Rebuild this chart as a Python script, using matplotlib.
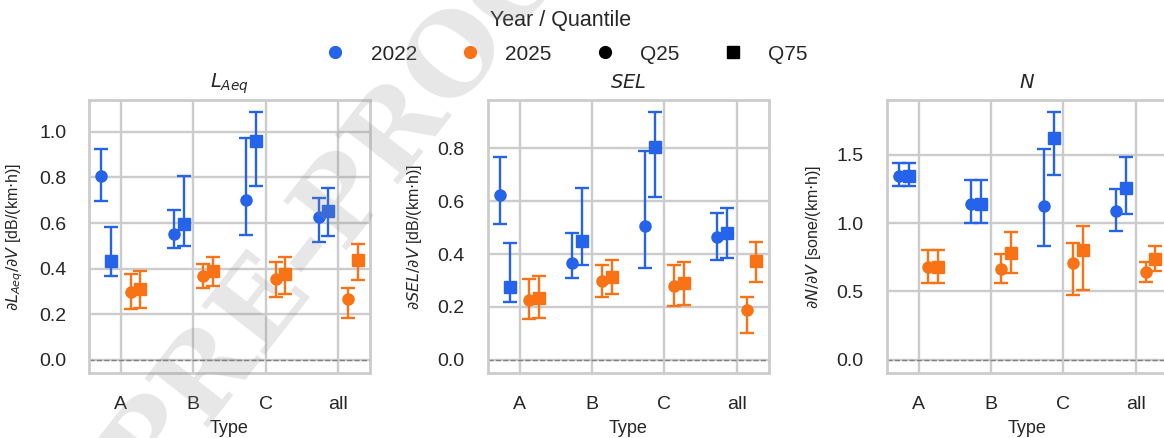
import numpy as np
import matplotlib.pyplot as plt
import seaborn as sns
from matplotlib.lines import Line2D

types = ["A", "B", "C", "all"]
years = ["2022", "2022", "2025", "2025"]
quantiles = ["Q25", "Q75", "Q25", "Q75"]

# rows: 2022 Q25, 2022 Q75, 2025 Q25, 2025 Q75 ; columns: A, B, C, all
laeq = [[0.807, 0.553, 0.700, 0.628],
        [0.432, 0.594, 0.959, 0.654],
        [0.298, 0.369, 0.355, 0.267],
        [0.311, 0.391, 0.377, 0.437]]
laeq_lo = [[0.695, 0.493, 0.547, 0.518],
           [0.368, 0.499, 0.762, 0.543],
           [0.225, 0.314, 0.277, 0.182],
           [0.229, 0.326, 0.289, 0.349]]
laeq_hi = [[0.924, 0.657, 0.975, 0.712],
           [0.584, 0.807, 1.086, 0.755],
           [0.375, 0.422, 0.431, 0.314],
           [0.390, 0.451, 0.453, 0.507]]

sel = [[0.625, 0.368, 0.508, 0.465],
       [0.276, 0.451, 0.805, 0.481],
       [0.227, 0.297, 0.280, 0.188],
       [0.234, 0.312, 0.290, 0.373]]
sel_lo = [[0.514, 0.309, 0.348, 0.377],
          [0.217, 0.357, 0.615, 0.384],
          [0.155, 0.239, 0.203, 0.103],
          [0.157, 0.248, 0.207, 0.294]]
sel_hi = [[0.767, 0.480, 0.790, 0.554],
          [0.443, 0.650, 0.937, 0.574],
          [0.305, 0.359, 0.357, 0.238],
          [0.316, 0.378, 0.369, 0.445]]

loud = [[1.346, 1.144, 1.129, 1.088],
        [1.346, 1.144, 1.622, 1.261],
        [0.676, 0.666, 0.710, 0.644],
        [0.676, 0.780, 0.800, 0.741]]
loud_lo = [[1.273, 1.005, 0.834, 0.944],
           [1.273, 1.005, 1.354, 1.071],
           [0.563, 0.559, 0.476, 0.571],
           [0.563, 0.637, 0.512, 0.646]]
loud_hi = [[1.439, 1.317, 1.541, 1.254],
           [1.439, 1.317, 1.815, 1.483],
           [0.800, 0.776, 0.854, 0.715],
           [0.800, 0.937, 0.983, 0.834]]

colors = {"2022": "#2563eb", "2025": "#f97316"}
markers = {"Q25": "o", "Q75": "s"}
offsets = [-0.27, -0.135, 0.135, 0.27]

sns.set_style("whitegrid")
plt.rcParams["font.family"] = ["Liberation Sans", "DejaVu Sans"]
plt.rcParams["mathtext.fontset"] = "dejavusans"
plt.rcParams["grid.linewidth"] = 1.7

panels = [
    ("$L_{Aeq}$", r"$\partial L_{Aeq}/\partial V$ [dB/(km$\cdot$h)]",
     laeq, laeq_lo, laeq_hi, (-0.057, 1.139), np.arange(0, 1.01, 0.2)),
    ("$SEL$", r"$\partial SEL/\partial V$ [dB/(km$\cdot$h)]",
     sel, sel_lo, sel_hi, (-0.05, 0.983), np.arange(0, 0.81, 0.2)),
    ("$N$", r"$\partial N/\partial V$ [sone/(km$\cdot$h)]",
     loud, loud_lo, loud_hi, (-0.098, 1.902), [0, 0.5, 1.0, 1.5]),
]
lefts = [0.0765, 0.419, 0.7618]

fig = plt.figure(figsize=(11.64, 4.38), dpi=100)
x = np.arange(len(types))

for left, (title, ylabel, mid, lo, hi, ylim, yticks) in zip(lefts, panels):
    ax = fig.add_axes([left, 0.1484, 0.2414, 0.623])
    ax.axhline(0, color="0.5", ls="--", lw=1, zorder=1)
    for i in range(4):
        m = np.array(mid[i])
        err = [m - np.array(lo[i]), np.array(hi[i]) - m]
        ax.errorbar(x + offsets[i], m, yerr=err, fmt=markers[quantiles[i]],
                    color=colors[years[i]], ms=8, capsize=5, elinewidth=1.7,
                    capthick=1.7, zorder=3)
    ax.set_xlim(-0.44, 3.44)
    ax.set_ylim(*ylim)
    ax.set_yticks(yticks)
    ax.set_xticks(x)
    ax.set_xticklabels(types)
    ax.tick_params(labelsize=14, pad=13)
    ax.set_title(title, fontsize=14, pad=9)
    ax.set_ylabel(ylabel, fontsize=11.5, labelpad=10)
    ax.set_xlabel("Type", fontsize=13, labelpad=5)
    for s in ax.spines.values():
        s.set_linewidth(2)

handles = [
    Line2D([], [], ls="", marker="o", color=colors["2022"], ms=8.5),
    Line2D([], [], ls="", marker="o", color=colors["2025"], ms=8.5),
    Line2D([], [], ls="", marker="o", color="black", ms=8.5),
    Line2D([], [], ls="", marker="s", color="black", ms=8),
]
fig.legend(handles, ["2022", "2025", "Q25", "Q75"], title="Year / Quantile",
           loc="upper center", bbox_to_anchor=(0.482, 1.01), ncol=4,
           frameon=False, fontsize=15, title_fontsize=15.5,
           columnspacing=1.55, handletextpad=0.7, borderpad=0.2, labelspacing=0.65)

# draft watermark
fig.text(0.31, 0.60, "PRE-PROOF", rotation=52, fontsize=80, weight="bold",
         family="DejaVu Serif", color="0.55", alpha=0.21,
         ha="center", va="center", zorder=20)

fig.savefig("out.png", dpi=100)
